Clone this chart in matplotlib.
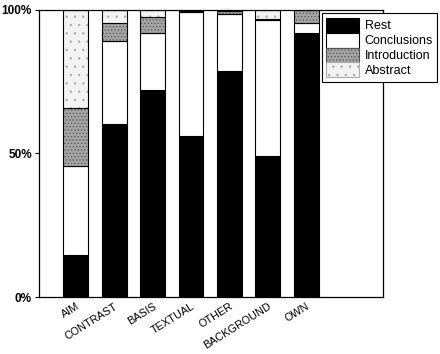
import numpy as np
import matplotlib.pyplot as plt
from matplotlib.patches import Patch

plt.rcParams['font.family'] = ['Liberation Sans', 'DejaVu Sans']
plt.rcParams['hatch.linewidth'] = 0.5

categories = ['AIM', 'CONTRAST', 'BASIS', 'TEXTUAL', 'OTHER', 'BACKGROUND', 'OWN']
# percentages per section (stacked bottom to top)
rest = [14.7, 60.3, 72.2, 56.2, 78.7, 49.1, 91.9]
conclusions = [31.0, 28.9, 19.8, 43.1, 19.9, 47.4, 3.5]
introduction = [20.0, 6.4, 5.7, 0.4, 1.0, 0.5, 4.6]
abstract = [34.3, 4.4, 2.3, 0.3, 0.4, 3.0, 0.0]

fig = plt.figure(figsize=(4.4, 3.54), dpi=100)
ax = fig.add_axes([0.088, 0.161, 0.782, 0.811])

x = np.arange(len(categories))
w = 0.65
bottom = np.zeros(len(categories))
styles = [
    ('Rest', rest, 'black', None, 'black'),
    ('Conclusions', conclusions, 'white', None, 'black'),
    ('Introduction', introduction, '#a4a4a4', '.....', '#555555'),
    ('Abstract', abstract, '#f2f2f2', '..', '#aaaaaa'),
]
handles = []
for name, vals, fc, hatch, hc in styles:
    ax.bar(x, vals, w, bottom=bottom, color=fc, hatch=hatch, edgecolor=hc,
           linewidth=0)
    ax.bar(x, vals, w, bottom=bottom, fill=False, edgecolor='black', linewidth=0.8)
    handles.append(Patch(facecolor=fc, hatch=hatch, edgecolor=hc, linewidth=0.8,
                         label=name))
    bottom += np.array(vals)

ax.set_xlim(-0.97, 8.0)
ax.set_ylim(0, 100)
ax.set_yticks([0, 50, 100])
ax.set_yticklabels(['0%', '50%', '100%'], fontsize=8.5, fontweight='bold')
ax.set_xticks(x)
ax.set_xticklabels(categories, rotation=32, ha='right', rotation_mode='anchor',
                   fontsize=7.8)
ax.tick_params(axis='x', length=0, pad=3)
ax.tick_params(axis='y', length=3, width=0.8, pad=2)
for s in ax.spines.values():
    s.set_linewidth(0.9)

leg = ax.legend(handles=handles, loc='upper left', bbox_to_anchor=(0.732, 0.962),
                bbox_transform=fig.transFigure, borderaxespad=0, fontsize=9,
                handlelength=2.6, handleheight=1.45, labelspacing=0.0,
                handletextpad=0.45, borderpad=0.35, fancybox=False,
                edgecolor='black', framealpha=1)
leg.get_frame().set_linewidth(0.8)

fig.savefig('out.png', dpi=100)
